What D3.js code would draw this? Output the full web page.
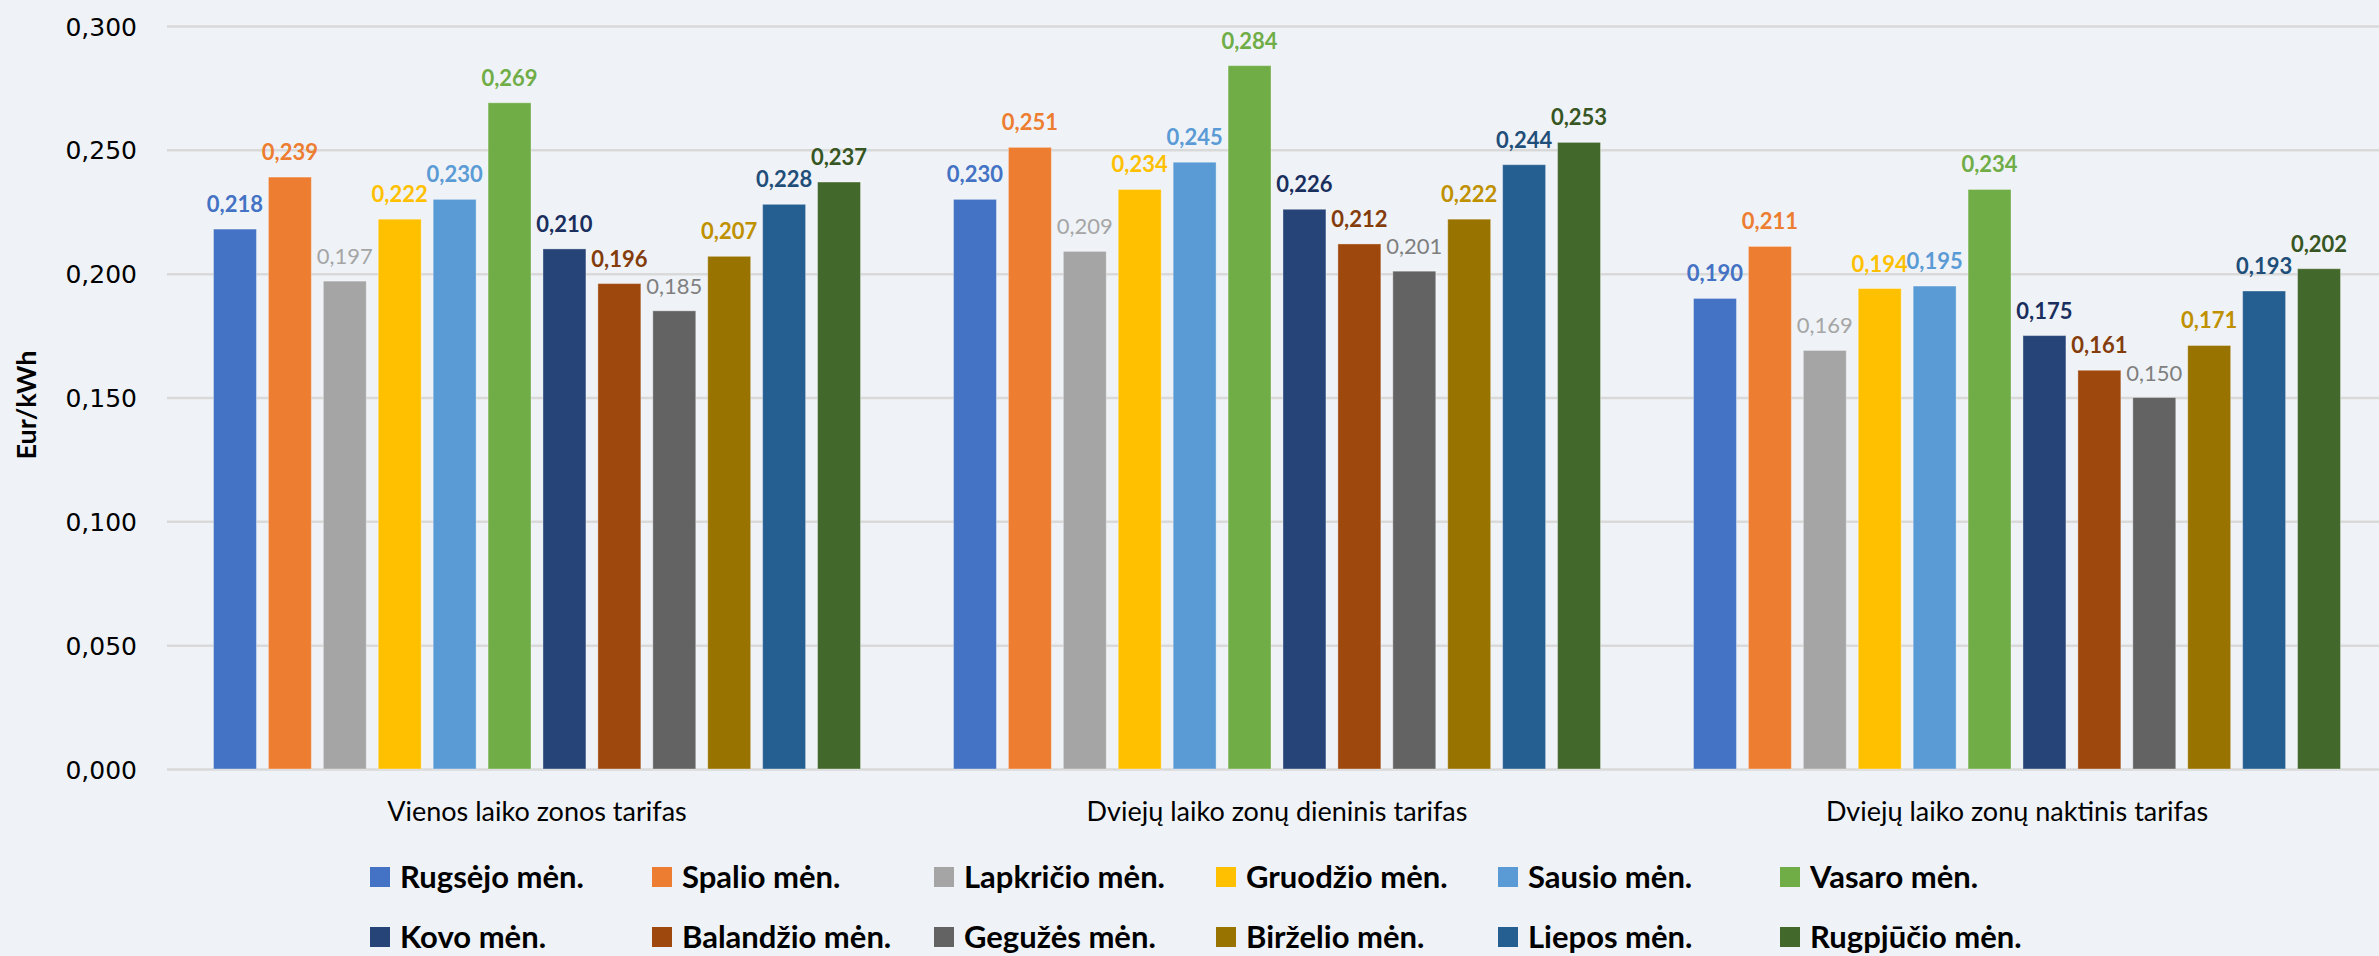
<!DOCTYPE html>
<html><head><meta charset="utf-8">
<script src="https://cdn.jsdelivr.net/npm/d3@7"></script>
<style>
html,body{margin:0;padding:0;background:#EFF3F7;}
svg{display:block;}
</style></head>
<body>
<svg id="chart" width="2379" height="956"></svg>
<script>
const categories = ["Vienos laiko zonos tarifas", "Dviejų laiko zonų dieninis tarifas", "Dviejų laiko zonų naktinis tarifas"];
const seriesNames = ["Rugsėjo mėn.", "Spalio mėn.", "Lapkričio mėn.", "Gruodžio mėn.", "Sausio mėn.", "Vasaro mėn.",
  "Kovo mėn.", "Balandžio mėn.", "Gegužės mėn.", "Birželio mėn.", "Liepos mėn.", "Rugpjūčio mėn."];
const vienos  = [0.218, 0.239, 0.197, 0.222, 0.230, 0.269, 0.210, 0.196, 0.185, 0.207, 0.228, 0.237];
const dieninis = [0.230, 0.251, 0.209, 0.234, 0.245, 0.284, 0.226, 0.212, 0.201, 0.222, 0.244, 0.253];
const naktinis = [0.190, 0.211, 0.169, 0.194, 0.195, 0.234, 0.175, 0.161, 0.150, 0.171, 0.193, 0.202];
const yTicks = [0, 0.05, 0.10, 0.15, 0.20, 0.25, 0.30];
const barColors = ["#4472C4", "#ED7D31", "#A5A5A5", "#FFC000", "#5B9BD5", "#70AD47",
  "#264478", "#9E480E", "#636363", "#997300", "#255E91", "#43682B"];
const labelColors = ["#4472C4", "#ED7D31", "#A5A5A5", "#FFC000", "#5B9BD5", "#70AD47",
  "#1A2F5E", "#843C0C", "#7F7F7F", "#BF9000", "#1F4E79", "#375623"];
const labelWeights = ["bold","bold","normal","bold","bold","bold","bold","bold","normal","bold","bold","bold"];

const values = [vienos, dieninis, naktinis];
const svg = d3.select("#chart");
const W = 2379, H = 956;
const plotL = 167, plotR = 2387, plotT = 26, plotB = 769;

const y = d3.scaleLinear().domain([0, 0.3]).range([plotB, plotT]);
const x0 = d3.scaleBand().domain(categories).range([plotL, plotR]).paddingInner(0).paddingOuter(0);
const x1 = d3.scaleBand().domain(d3.range(seriesNames.length))
  .range([46.5, x0.bandwidth() - 46.5]).paddingInner(0.218).paddingOuter(0);

const fmt = v => d3.format(".3f")(v).replace(".", ",");

// gridlines
const yAxis = d3.axisLeft(y).tickValues(yTicks).tickSize(-(W - plotL)).tickFormat(fmt).tickPadding(30);
const ga = svg.append("g").attr("transform", `translate(${plotL},0)`).call(yAxis);
ga.select(".domain").remove();
ga.selectAll(".tick line").attr("stroke", "#D9D9D9").attr("stroke-width", 2.5);
ga.selectAll(".tick text").attr("font-family", "DejaVu Sans").attr("font-size", 25).attr("fill", "#000")
  .attr("dy", "0.36em");

// bars
const groups = svg.append("g").selectAll("g").data(categories).join("g")
  .attr("transform", d => `translate(${x0(d)},0)`);
groups.each(function(cat, ci) {
  const g = d3.select(this);
  const vals = values[ci];
  g.selectAll("rect").data(vals).join("rect")
    .attr("x", (d, i) => x1(i)).attr("width", x1.bandwidth())
    .attr("y", d => y(d)).attr("height", d => y(0) - y(d))
    .attr("fill", (d, i) => barColors[i])
    .attr("stroke", "rgba(255,255,255,0.35)").attr("stroke-width", 1);
  g.selectAll("text").data(vals).join("text")
    .attr("x", (d, i) => x1(i) + x1.bandwidth() / 2)
    .attr("y", d => y(d) - 17)
    .attr("text-anchor", "middle")
    .attr("font-family", "Lato").attr("font-size", 22)
    .attr("font-weight", (d, i) => labelWeights[i])
    .attr("fill", (d, i) => labelColors[i])
    .text(d => fmt(d));
});

// category axis labels
svg.append("g").selectAll("text").data(categories).join("text")
  .attr("x", d => x0(d) + x0.bandwidth() / 2).attr("y", 821)
  .attr("text-anchor", "middle").attr("font-family", "Lato").attr("font-size", 27).attr("fill", "#000")
  .text(d => d);

// y-axis title
svg.append("text").attr("transform", "translate(36,405) rotate(-90)")
  .attr("text-anchor", "middle").attr("font-family", "Lato").attr("font-weight", "bold")
  .attr("font-size", 27).attr("fill", "#000").text("Eur/kWh");

// legend
const leg = svg.append("g").selectAll("g").data(seriesNames).join("g")
  .attr("transform", (d, i) => `translate(${370 + (i % 6) * 282},${877 + Math.floor(i / 6) * 60})`);
leg.append("rect").attr("x", 0).attr("y", -10).attr("width", 20).attr("height", 20)
  .attr("fill", (d, i) => barColors[i]);
leg.append("text").attr("x", 30).attr("y", 11)
  .attr("font-family", "Lato").attr("font-weight", "bold").attr("font-size", 31).attr("fill", "#000")
  .text(d => d);
</script>
</body></html>
